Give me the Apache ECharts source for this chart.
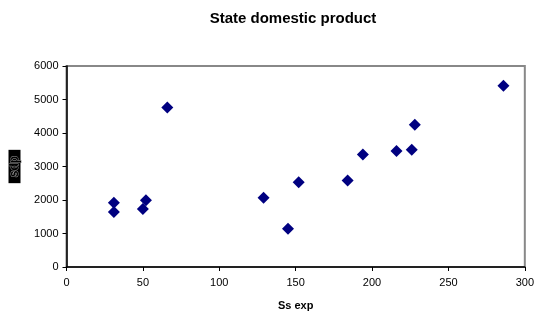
<!DOCTYPE html>
<html>
<head>
<meta charset="utf-8">
<script src="https://cdn.jsdelivr.net/npm/echarts@6/dist/echarts.min.js"></script>
<style>
  html, body { margin: 0; padding: 0; background: #fff; }
  #main { width: 537px; height: 320px; }
</style>
</head>
<body>
<div id="main"></div>
<script>
// Ss exp (x) vs state domestic product (y)
var ssExp = [31, 31, 50, 52, 66, 129, 145, 152, 184, 194, 216, 226, 228, 286];
var sdp = [1920, 1640, 1730, 1990, 4760, 2070, 1140, 2530, 2580, 3360, 3460, 3500, 4250, 5410];
var xTicks = [0, 50, 100, 150, 200, 250, 300];
var yTicks = [0, 1000, 2000, 3000, 4000, 5000, 6000];

var points = [];
for (var i = 0; i < ssExp.length; i++) {
    points.push([ssExp[i], sdp[i]]);
}

var chart = echarts.init(document.getElementById('main'));
var labelFont = 'Liberation Sans, Arial, sans-serif';
chart.setOption({
    animation: false,
    backgroundColor: '#fff',
    title: {
        text: 'State domestic product',
        left: 288,
        textAlign: 'center',
        top: 6,
        textStyle: { fontFamily: labelFont, fontSize: 15, fontWeight: 'bold', color: '#000' }
    },
    grid: {
        left: 63, right: 9, top: 66, bottom: 53,
        show: true, borderColor: '#888', borderWidth: 2
    },
    xAxis: {
        type: 'value',
        min: xTicks[0], max: xTicks[xTicks.length - 1], interval: 50,
        name: 'Ss exp',
        nameLocation: 'middle',
        nameGap: 33,
        nameTextStyle: { fontFamily: labelFont, fontSize: 11, fontWeight: 'bold', color: '#000' },
        axisLine: { lineStyle: { color: '#000', width: 1.5 } },
        axisTick: { show: true, length: 4, lineStyle: { color: '#000' } },
        axisLabel: { fontFamily: labelFont, fontSize: 11, color: '#000', margin: 10 },
        splitLine: { show: false }
    },
    yAxis: {
        type: 'value',
        min: yTicks[0], max: yTicks[yTicks.length - 1], interval: 1000,
        name: 'sdp',
        nameLocation: 'middle',
        nameGap: 46,
        nameRotate: 90,
        nameTextStyle: {
            fontFamily: labelFont, fontSize: 12, fontWeight: 'bold',
            color: '#000', textBorderColor: '#999', textBorderWidth: 1,
            backgroundColor: '#000', padding: [0, 6, 0, 6]
        },
        axisLine: { show: true, lineStyle: { color: '#000', width: 1.5 } },
        axisTick: { show: true, length: 4, lineStyle: { color: '#000' } },
        axisLabel: {
            fontFamily: labelFont, fontSize: 11, color: '#000', margin: 8,
            formatter: function (v) { return String(v); }
        },
        splitLine: { show: false }
    },
    series: [{
        type: 'scatter',
        data: points,
        symbol: 'diamond',
        symbolSize: [12, 12],
        itemStyle: { color: '#000080', opacity: 1 }
    }]
});
</script>
</body>
</html>
